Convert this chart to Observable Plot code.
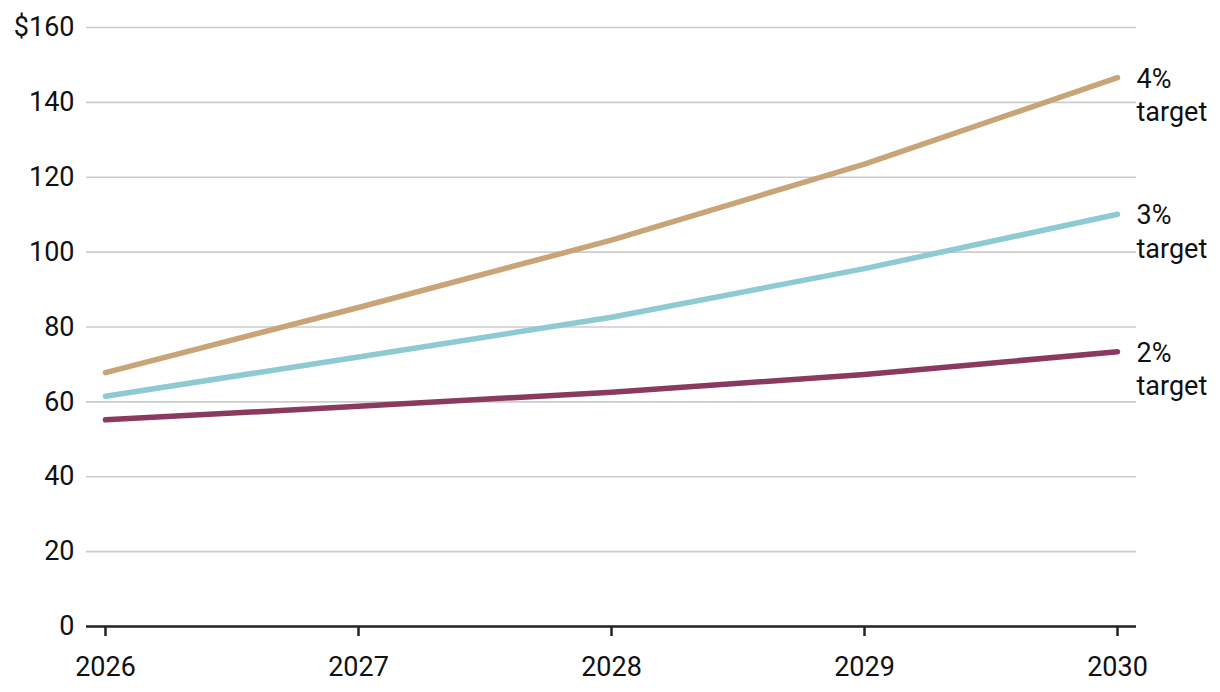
<!DOCTYPE html>
<html>
<head>
<meta charset="utf-8">
<script src="https://cdn.jsdelivr.net/npm/d3@7"></script>
<script src="https://cdn.jsdelivr.net/npm/@observablehq/plot@0.6"></script>
<style>
  html, body { margin: 0; padding: 0; background: #fff; }
  #chart svg { display: block; }
</style>
</head>
<body>
<div id="chart"></div>
<script>
const years = [2026, 2027, 2028, 2029, 2030];
const target2 = [55.2, 58.8, 62.6, 67.3, 73.4];
const target3 = [61.5, 72.0, 82.6, 95.6, 110.1];
const target4 = [67.8, 85.2, 103.2, 123.5, 146.6];
const seriesNames = ["4%\ntarget", "3%\ntarget", "2%\ntarget"];
const seriesColors = ["#C8A478", "#8DCAD3", "#8A3A5E"];
const yTicks = [0, 20, 40, 60, 80, 100, 120, 140, 160];

const seriesValues = [target4, target3, target2];
const data = [];
seriesNames.forEach((name, i) => {
  years.forEach((yr, j) => data.push({series: name, year: yr, value: seriesValues[i][j]}));
});
const ends = data.filter(d => d.year === years[years.length - 1]);

const plot = Plot.plot({
  width: 1220,
  height: 692,
  marginTop: 27,
  marginBottom: 66,
  marginLeft: 86,
  marginRight: 84,
  style: {fontFamily: "Roboto, 'Noto Sans', sans-serif", fontSize: "27px", color: "#111", background: "#fff"},
  x: {domain: [2026, 2030], insetLeft: 19, insetRight: 19, label: null},
  y: {domain: [0, 160], label: null},
  color: {domain: seriesNames, range: seriesColors},
  marks: [
    Plot.ruleY(yTicks.filter(t => t > 0), {stroke: "#cccccc", strokeWidth: 1.6}),
    Plot.axisY(yTicks, {tickSize: 0, tickPadding: 12, fontSize: 27, fill: "#111", label: null,
      tickFormat: d => d === 160 ? "$160" : String(d)}),
    Plot.axisX(years, {tickSize: 10, tickPadding: 20, stroke: "#222", strokeWidth: 2.5, fontSize: 27, fill: "#111", label: null,
      tickFormat: d => String(d)}),
    Plot.ruleY([0], {stroke: "#222", strokeWidth: 2.5}),
    Plot.line(data, {x: "year", y: "value", z: "series", stroke: "series", strokeWidth: 5.5, strokeLinecap: "round", strokeLinejoin: "round"}),
    Plot.text(ends, {x: "year", y: "value", text: "series", textAnchor: "start", lineAnchor: "top", dx: 19, dy: -14, lineHeight: 1.25, fontSize: 27, fill: "#111"})
  ]
});
document.getElementById("chart").appendChild(plot);
</script>
</body>
</html>
